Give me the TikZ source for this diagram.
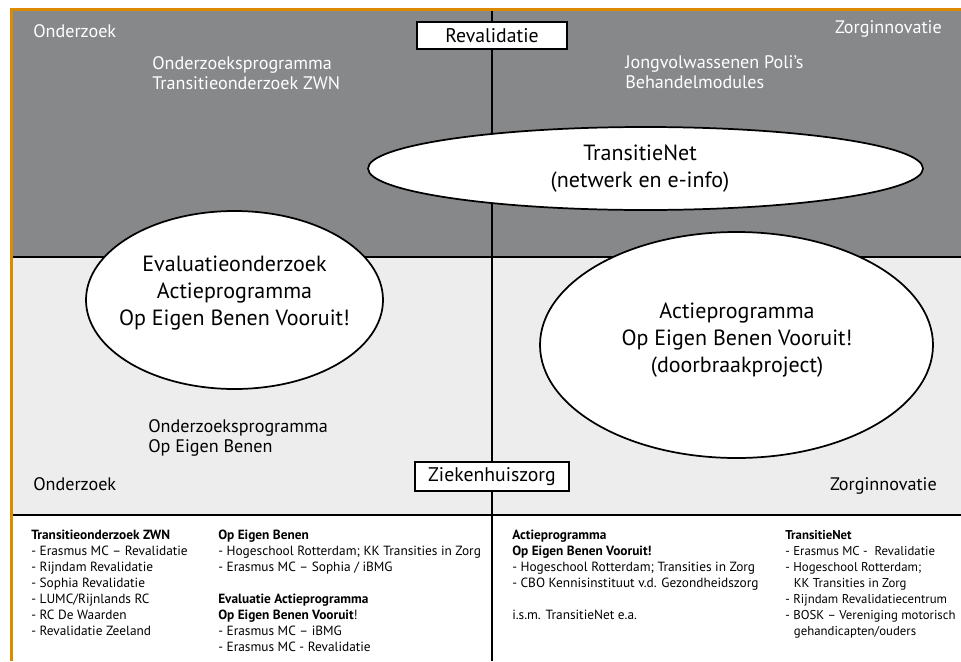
\documentclass[tikz,border=0pt]{standalone}
\usepackage{fontspec}
\setmainfont{PT Sans}
\usetikzlibrary{shapes.geometric}
\definecolor{dgray}{HTML}{87888A}
\definecolor{lgray}{HTML}{ECEDEC}
\definecolor{orng}{HTML}{DC8B00}
\begin{document}
\begin{tikzpicture}[x=0.75pt,y=-0.75pt,
  rule/.style={line width=1.4pt,black},
  ell/.style={ellipse,draw=black,line width=1.3pt,fill=white,inner sep=0pt},
  ellt/.style={align=center,font=\fontsize{16.5}{20.25}\selectfont,inner sep=0pt},
  tagbox/.style={rectangle,draw=black,line width=0.9pt,fill=white,inner sep=0pt,font=\fontsize{14.8}{16}\selectfont},
  lab/.style={inner sep=0pt,align=left,font=\fontsize{13.6}{15}\selectfont},
  wlab/.style={lab,text=white},
  small/.style={inner sep=0pt,align=left,anchor=base west,font=\fontsize{10}{12}\selectfont}]
\useasboundingbox (0,0) rectangle (961,661);
% backgrounds
\fill[dgray] (13,11) rectangle (961,257);
\fill[lgray] (13,257) rectangle (961,515);
\fill[orng] (10,8) rectangle (961,11);
\fill[orng] (10,8) rectangle (13,661);
% rules
\coordinate (vt) at (492,11);
\coordinate (vb) at (492,661);
\coordinate (h1l) at (13,257);
\coordinate (h1r) at (961,257);
\coordinate (h2l) at (13,515);
\coordinate (h2r) at (961,515);
\draw[rule] (vt) -- (vb);
\draw[rule] (h1l) -- (h1r);
\draw[rule] (h2l) -- (h2r);
% boxes
\node[tagbox,minimum width=112.5pt,minimum height=20.25pt] (reval) at (492,35.5) {Revalidatie};
\node[tagbox,minimum width=115.5pt,minimum height=21.75pt] (zhz) at (492,476.5) {Ziekenhuiszorg};
% ellipses
\node[ell,minimum width=416.25pt,minimum height=62.25pt] (tnet) at (645.5,168.5) {};
\node[ellt] (tnett) at (640,169) {TransitieNet\\(netwerk en e-info)};
\node[ell,minimum width=222.75pt,minimum height=133.5pt] (evo) at (234.5,300) {};
\node[ellt] (evot) at (234.5,293) {Evaluatieonderzoek\\Actieprogramma\\Op Eigen Benen Vooruit!};
\node[ell,minimum width=294.75pt,minimum height=169.5pt] (act) at (736.5,345) {};
\node[ellt] (actt) at (737,340) {Actieprogramma\\Op Eigen Benen Vooruit!\\(doorbraakproject)};
% quadrant labels (base anchor = baseline of last line)
\node[wlab,anchor=base west] (oz1) at (33,37) {Onderzoek};
\node[wlab,anchor=base east] (zi1) at (942,33) {Zorginnovatie};
\node[wlab,anchor=base west] (ozp1) at (152,89) {Onderzoeksprogramma\\Transitieonderzoek ZWN};
\node[wlab,anchor=base west] (jvp) at (625,88) {Jongvolwassenen Poli’s\\Behandelmodules};
\node[lab,anchor=base west] (ozp2) at (148,452) {Onderzoeksprogramma\\Op Eigen Benen};
\node[lab,anchor=base west] (oz2) at (33,490) {Onderzoek};
\node[lab,anchor=base east] (zi2) at (937,490) {Zorginnovatie};
% bottom lists
\node[small] (c1) at (31,635) {\textbf{Transitieonderzoek ZWN}\\- Erasmus MC – Revalidatie\\- Rijndam Revalidatie\\- Sophia Revalidatie\\- LUMC/Rijnlands RC\\- RC De Waarden\\- Revalidatie Zeeland};
\node[small] (c2) at (218,651) {\textbf{Op Eigen Benen}\\- Hogeschool Rotterdam; KK Transities in Zorg\\- Erasmus MC – Sophia / iBMG\\[12pt]\textbf{Evaluatie Actieprogramma}\\\textbf{Op Eigen Benen Vooruit}!\\- Erasmus MC – iBMG\\- Erasmus MC - Revalidatie};
\node[small] (c3) at (512,619) {\textbf{Actieprogramma}\\\textbf{Op Eigen Benen Vooruit!}\\- Hogeschool Rotterdam; Transities in Zorg\\- CBO Kennisinstituut v.d. Gezondheidszorg\\[12pt]i.s.m. TransitieNet e.a.};
\node[small,font=\fontsize{9.6}{12}\selectfont] (c4) at (785,635) {\textbf{TransitieNet}\\- Erasmus MC -\ \ Revalidatie\\- Hogeschool Rotterdam;\\\hspace*{6.5pt}KK Transities in Zorg\\- Rijndam Revalidatiecentrum\\- BOSK – Vereniging motorisch\\\hspace*{6.5pt}gehandicapten/ouders};
\end{tikzpicture}
\end{document}
